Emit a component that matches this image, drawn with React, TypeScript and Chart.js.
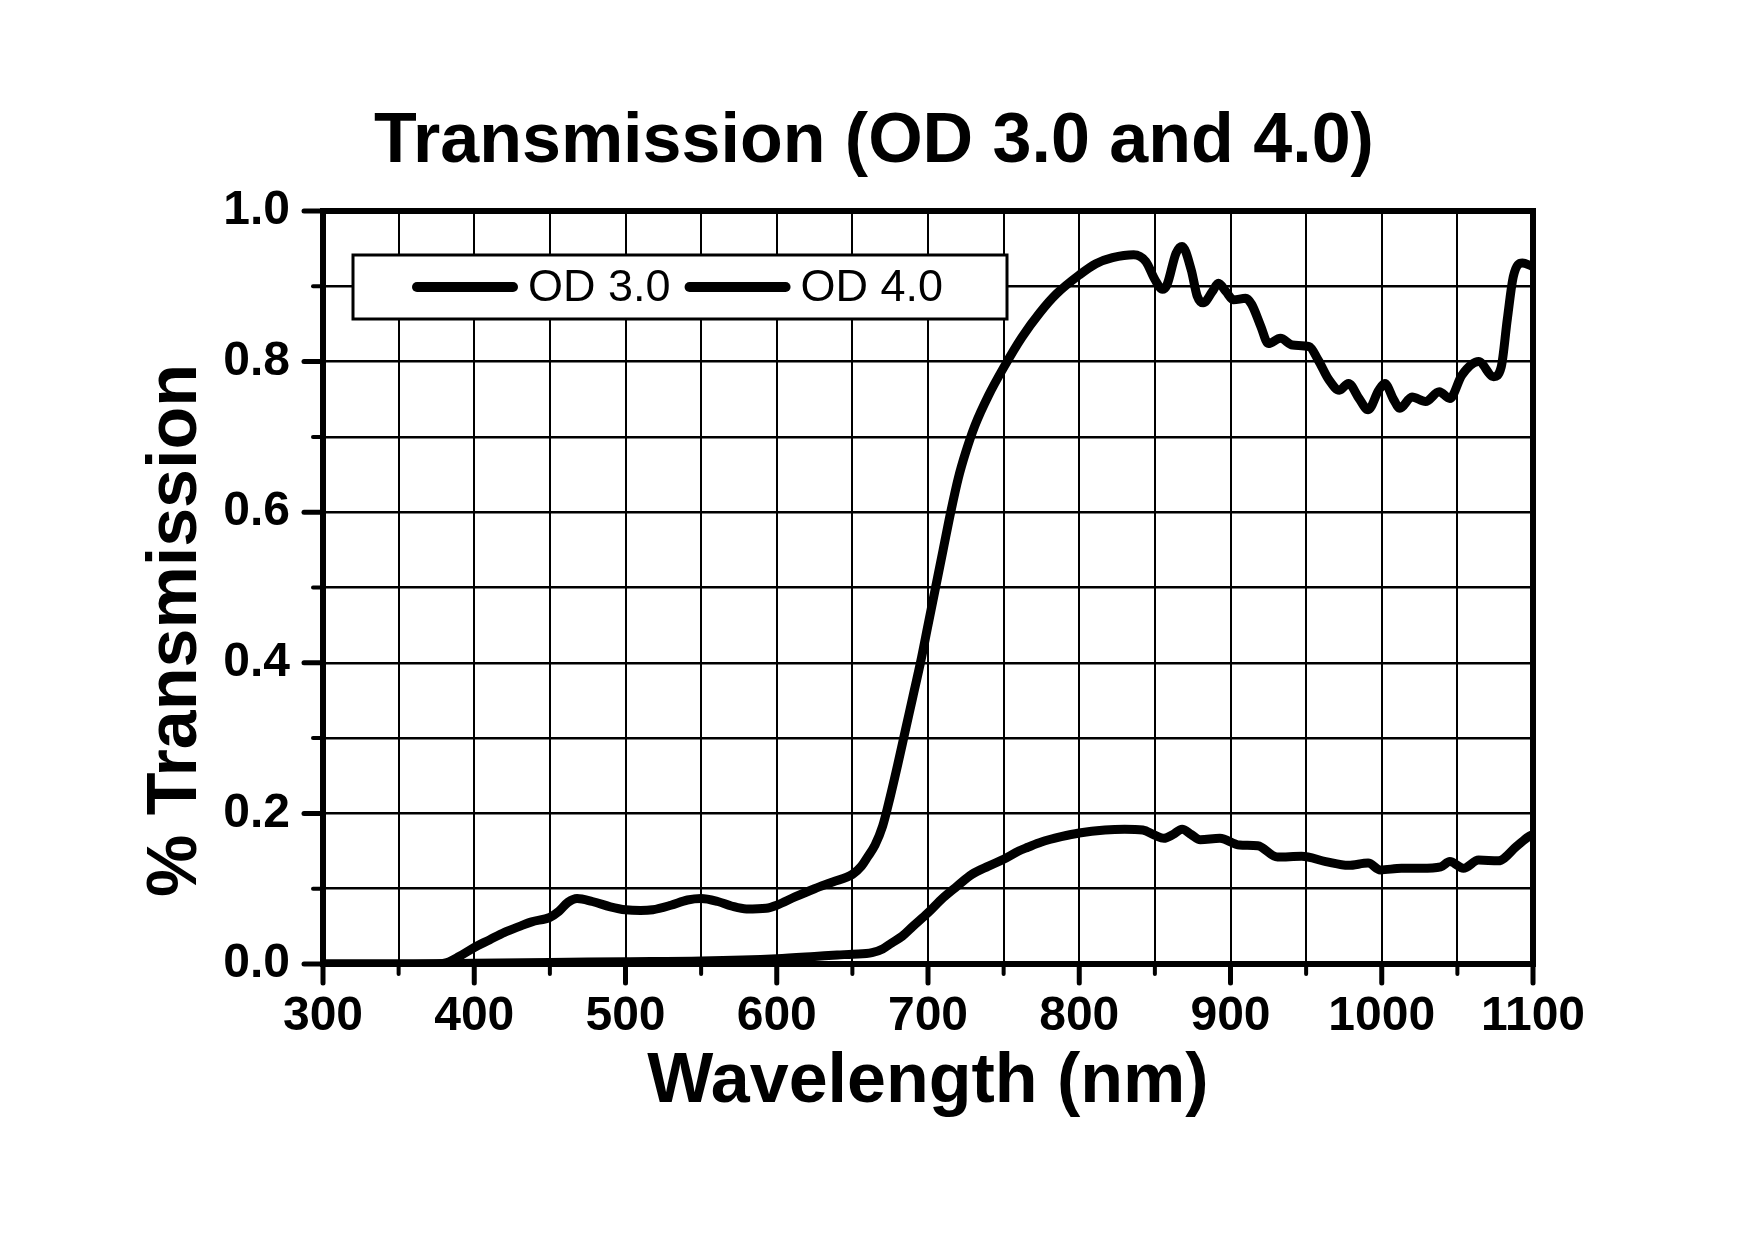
import React, { useEffect, useRef } from 'react';
import { Chart, registerables } from 'chart.js';

Chart.register(...registerables);

const FONT = "'Liberation Sans', Arial, Helvetica, sans-serif";

const chartTitle = 'Transmission (OD 3.0 and 4.0)';
const xAxisTitle = 'Wavelength (nm)';
const yAxisTitle = '% Transmission';
const seriesLabels = ['OD 3.0', 'OD 4.0'];

const od3Wavelength = [
  300, 350, 375, 382, 390, 400, 410, 420, 430, 438, 450, 456, 462, 468, 478, 490,
  500, 510, 518, 530, 541, 550, 561, 570, 580, 593, 600, 612, 625, 637, 650, 656,
  660, 665, 670, 675, 680, 685, 690, 695, 700, 705, 710, 715, 720, 725, 731, 740,
  750, 762, 774, 785, 800, 811, 822, 836, 844, 850, 855, 858, 864, 868, 874, 878,
  882, 888, 892, 897, 902, 910, 914, 920, 925, 933, 941, 952, 958, 965, 972, 978,
  985, 991, 998, 1002, 1008, 1012, 1020, 1029, 1038, 1045, 1053, 1064, 1074, 1079, 1083,
  1087, 1093, 1099,
];
const od3Transmission = [
  0, 0, 0, 0.002, 0.01, 0.022, 0.032, 0.042, 0.05, 0.056, 0.062, 0.07, 0.082, 0.087, 0.083, 0.076,
  0.072, 0.071, 0.072, 0.078, 0.085, 0.087, 0.083, 0.077, 0.073, 0.074, 0.078, 0.089, 0.1, 0.109, 0.119, 0.13,
  0.142, 0.158, 0.183, 0.222, 0.265, 0.31, 0.355, 0.4, 0.45, 0.5, 0.55, 0.6, 0.645, 0.68, 0.715, 0.755,
  0.792, 0.832, 0.865, 0.89, 0.915, 0.93, 0.938, 0.942, 0.933, 0.909, 0.896, 0.902, 0.944, 0.953, 0.922, 0.887,
  0.878, 0.893, 0.904, 0.893, 0.882, 0.884, 0.876, 0.847, 0.824, 0.831, 0.822, 0.82, 0.802, 0.776, 0.762, 0.771,
  0.751, 0.736, 0.762, 0.771, 0.749, 0.738, 0.753, 0.747, 0.76, 0.751, 0.782, 0.8, 0.78, 0.793, 0.856,
  0.913, 0.931, 0.927,
];

const od4Wavelength = [
  300, 350, 400, 450, 500, 550, 600, 625, 640, 650, 663, 670, 676, 683, 690, 700,
  710, 719, 729, 740, 750, 760, 766, 775, 788, 800, 817, 830, 842, 850, 856, 862,
  868, 874, 880, 893, 906, 918, 931, 947, 963, 978, 991, 999, 1013, 1026, 1039, 1045,
  1054, 1064, 1077, 1089, 1097, 1100,
];
const od4Transmission = [
  0, 0, 0.001, 0.002, 0.003, 0.004, 0.007, 0.01, 0.012, 0.013, 0.015, 0.02, 0.028, 0.037, 0.05, 0.068,
  0.088, 0.103, 0.119, 0.13, 0.139, 0.15, 0.155, 0.162, 0.169, 0.174, 0.178, 0.179, 0.178, 0.171, 0.167, 0.172,
  0.179, 0.172, 0.165, 0.167, 0.158, 0.157, 0.142, 0.143, 0.136, 0.131, 0.134, 0.125, 0.127, 0.127, 0.129, 0.136,
  0.127, 0.138, 0.137, 0.156, 0.169, 0.172,
];

const xMin = 300;
const xMax = 1100;
const xStep = 50;
const xLabelStep = 100;
const yMin = 0;
const yMax = 1;
const yStep = 0.1;
const yLabelEvery = 2;

const decorPlugin = {
  id: 'decor',
  afterDatasetsDraw(chart: any) {
    const { ctx, chartArea } = chart;
    const { left, right, top, bottom } = chartArea;
    const xs = chart.scales.x;
    const ys = chart.scales.y;
    ctx.save();
    ctx.strokeStyle = '#000';
    ctx.lineCap = 'round';
    xs.ticks.forEach((t: any) => {
      const major = Math.round(t.value) % xLabelStep === 0;
      const px = xs.getPixelForValue(t.value);
      ctx.lineWidth = major ? 5 : 4;
      ctx.beginPath();
      ctx.moveTo(px, bottom);
      ctx.lineTo(px, bottom + (major ? 19 : 10));
      ctx.stroke();
    });
    ys.ticks.forEach((t: any) => {
      const major = Math.round(t.value / yStep) % yLabelEvery === 0;
      const py = ys.getPixelForValue(t.value);
      ctx.lineWidth = major ? 5 : 4;
      ctx.beginPath();
      ctx.moveTo(left, py);
      ctx.lineTo(left - (major ? 19 : 10), py);
      ctx.stroke();
    });
    ctx.lineCap = 'butt';
    ctx.lineJoin = 'miter';
    ctx.lineWidth = 6;
    ctx.strokeRect(left, top, right - left, bottom - top);

    // legend
    const boxX = left + 30;
    const boxY = top + 44;
    const boxW = 654;
    const boxH = 64;
    ctx.fillStyle = '#fff';
    ctx.fillRect(boxX, boxY, boxW, boxH);
    ctx.lineWidth = 3;
    ctx.strokeRect(boxX, boxY, boxW, boxH);
    ctx.font = `45px ${FONT}`;
    ctx.textBaseline = 'middle';
    ctx.textAlign = 'left';
    let cx = boxX + 59;
    const cy = boxY + 32;
    chart.data.datasets.forEach((ds: any) => {
      ctx.strokeStyle = ds.borderColor;
      ctx.lineWidth = 10;
      ctx.lineCap = 'round';
      ctx.beginPath();
      ctx.moveTo(cx + 5, cy);
      ctx.lineTo(cx + 101, cy);
      ctx.stroke();
      ctx.fillStyle = '#000';
      ctx.fillText(ds.label, cx + 116, cy + 2);
      cx += 116 + ctx.measureText(ds.label).width + 14;
    });

    // y axis title
    ctx.save();
    ctx.translate(left - 146, (top + bottom) / 2 + 43);
    ctx.rotate(-Math.PI / 2);
    ctx.font = `bold 70px ${FONT}`;
    ctx.textAlign = 'center';
    ctx.textBaseline = 'middle';
    ctx.fillStyle = '#000';
    ctx.fillText(yAxisTitle, 0, 0);
    ctx.restore();

    ctx.restore();
  },
};

export default function App() {
  const canvasRef = useRef<HTMLCanvasElement | null>(null);

  useEffect(() => {
    if (!canvasRef.current) return;
    const chart = new Chart(canvasRef.current, {
      type: 'line',
      data: {
        datasets: [
          {
            label: seriesLabels[0],
            data: od3Wavelength.map((w, i) => ({ x: w, y: od3Transmission[i] })),
            borderColor: '#000',
            borderWidth: 9,
            pointRadius: 0,
            cubicInterpolationMode: 'monotone',
            fill: false,
          },
          {
            label: seriesLabels[1],
            data: od4Wavelength.map((w, i) => ({ x: w, y: od4Transmission[i] })),
            borderColor: '#000',
            borderWidth: 9,
            pointRadius: 0,
            cubicInterpolationMode: 'monotone',
            fill: false,
          },
        ],
      },
      options: {
        animation: false,
        responsive: true,
        maintainAspectRatio: false,
        events: [],
        layout: { padding: { top: 101, left: 215, right: 222, bottom: 0 } },
        plugins: {
          legend: { display: false },
          tooltip: { enabled: false },
          title: {
            display: true,
            text: chartTitle,
            color: '#000',
            font: { family: FONT, size: 70, weight: 'bold', lineHeight: 1.2 },
            padding: { top: 0, bottom: 26 },
          },
        },
        scales: {
          x: {
            type: 'linear',
            min: xMin,
            max: xMax,
            afterFit: (scale: any) => {
              scale.height = 278;
            },
            ticks: {
              stepSize: xStep,
              autoSkip: false,
              maxRotation: 0,
              padding: 24,
              color: '#000',
              font: { family: FONT, size: 48, weight: 'bold', lineHeight: 1.2 },
              callback: (v: any) => (Math.round(v) % xLabelStep === 0 ? String(v) : ''),
            },
            grid: { color: '#000', lineWidth: 2, drawTicks: false },
            border: { display: false },
            title: {
              display: true,
              text: xAxisTitle,
              color: '#000',
              font: { family: FONT, size: 70, weight: 'bold', lineHeight: 1.2 },
              padding: { top: 0, bottom: 117 },
            },
          },
          y: {
            type: 'linear',
            min: yMin,
            max: yMax,
            afterFit: (scale: any) => {
              scale.width = 108;
            },
            ticks: {
              stepSize: yStep,
              autoSkip: false,
              padding: 33,
              color: '#000',
              font: { family: FONT, size: 48, weight: 'bold', lineHeight: 1.2 },
              callback: (v: any) =>
                Math.round(Number(v) / yStep) % yLabelEvery === 0 ? Number(v).toFixed(1) : '',
            },
            grid: { color: '#000', lineWidth: 2.5, drawTicks: false },
            border: { display: false },
          },
        },
      },
      plugins: [decorPlugin],
    } as any);
    return () => chart.destroy();
  }, []);

  return (
    <div
      style={{
        position: 'fixed',
        left: 0,
        top: 0,
        width: '1755px',
        height: '1242px',
        background: '#fff',
      }}
    >
      <canvas ref={canvasRef} />
    </div>
  );
}
